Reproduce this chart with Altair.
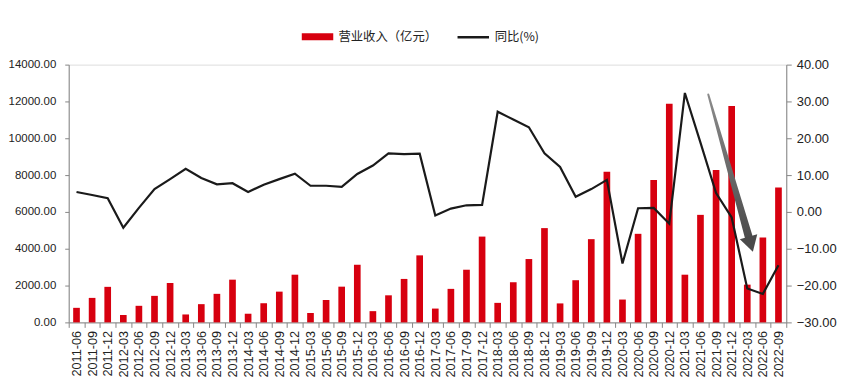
import altair as alt
import pandas as pd

periods = ["2011-06", "2011-09", "2011-12"]
for yr in range(2012, 2022):
    for m in ["03", "06", "09", "12"]:
        periods.append(f"{yr}-{m}")
periods += ["2022-03", "2022-06", "2022-09"]

revenue = [790, 1330, 1930, 400, 900, 1440, 2140, 430, 990, 1550, 2320, 470, 1040,
           1670, 2590, 510, 1220, 1940, 3130, 610, 1470, 2360, 3640, 750, 1820,
           2860, 4660, 1060, 2180, 3440, 5120, 1030, 2290, 4520, 8180, 1240, 4810,
           7730, 11870, 2590, 5840, 8270, 11750, 2050, 4610, 7330]
yoy = [5.4, 4.6, 3.7, -4.3, 1.1, 6.2, 8.9, 11.7, 9.2, 7.5, 7.8, 5.4, 7.4, 8.9, 10.4,
       7.1, 7.1, 6.8, 10.3, 12.6, 15.9, 15.7, 15.8, -1.0, 0.9,
       1.8, 1.9, 27.2, 25.1, 23.0, 15.9, 12.2, 4.1, 6.2, 8.7, -14.0, 1.0, 1.1, -3.2,
       32.3, 18.8, 5.1, -1.5, -20.8, -22.3, -14.5]

left_ticks = [0, 2000, 4000, 6000, 8000, 10000, 12000, 14000]
right_ticks = [-30, -20, -10, 0, 10, 20, 30, 40]

bar_name = "营业收入（亿元）"
line_name = "同比(%)"

# annotation arrow (category-index units on x, right-axis units on y)
arrow_x = [41.0, 43.58]
arrow_y = [31.9, -6.6]
arrow_w = [2.0, 8.0]
head_x = [43.72]
head_y = [-8.8]

df = pd.DataFrame({"period": periods, "revenue": revenue, "yoy": yoy,
                   "s1": bar_name, "s2": line_name})
arrow_df = pd.DataFrame({"x": arrow_x, "y": arrow_y, "w": arrow_w, "o": [0, 1]})
head_df = pd.DataFrame({"x": head_x, "y": head_y})

W, H = 721, 259
LABEL = "Liberation Sans"
AX = "#868686"

xenc = alt.X("period:N", sort=periods,
             scale=alt.Scale(paddingInner=0, paddingOuter=0),
             axis=alt.Axis(title=None, labelAngle=270, labelFontSize=12.8, labelFont=LABEL,
                           labelColor="#222", tickBand="extent", tickSize=5,
                           domainColor=AX, tickColor=AX, labelPadding=3))

bars = alt.Chart(df).mark_bar(size=6.7).encode(
    x=xenc,
    y=alt.Y("revenue:Q", scale=alt.Scale(domain=[0, 14000], nice=False),
            axis=alt.Axis(orient="left", values=left_ticks, format=".2f", title=None,
                          grid=False, domainColor=AX, tickColor=AX, tickSize=4,
                          labelFontSize=11.5, labelFont=LABEL, labelColor="#222",
                          labelPadding=9)),
    fill=alt.Fill("s1:N", scale=alt.Scale(domain=[bar_name], range=["#d7000f"]),
                  legend=alt.Legend(title=None, orient="none", legendX=233, legendY=-45,
                                    symbolType="M-1,-0.23H1V0.23H-1Z", symbolSize=1000,
                                    labelFontSize=12.4, labelFont="Noto Sans CJK SC",
                                    labelColor="#222", padding=0, labelOffset=4)),
)

line = alt.Chart(df).mark_line(strokeWidth=2.2).encode(
    x=xenc,
    y=alt.Y("yoy:Q", scale=alt.Scale(domain=[-30, 40], nice=False, zero=False),
            axis=alt.Axis(orient="right", values=right_ticks, format=".2f", title=None,
                          grid=False, domainColor=AX, tickColor=AX, tickSize=5,
                          labelFontSize=13, labelFont=LABEL, labelColor="#222",
                          labelPadding=5)),
    stroke=alt.Stroke("s2:N", scale=alt.Scale(domain=[line_name], range=["#1a1a1a"]),
                      legend=alt.Legend(title=None, orient="none", legendX=389, legendY=-45,
                                        symbolType="stroke", symbolSize=1000,
                                        symbolStrokeWidth=2.5,
                                        labelFontSize=12.4, labelFont="Noto Sans CJK SC",
                                        labelColor="#222", padding=0, labelOffset=4)),
)

base = alt.layer(bars, line).resolve_scale(y="independent")

ax_q = alt.X("x:Q", scale=alt.Scale(domain=[0, 46], nice=False, zero=False), axis=None)
ay_q = alt.Y("y:Q", scale=alt.Scale(domain=[-30, 40], nice=False, zero=False), axis=None)

trail = alt.Chart(arrow_df).mark_trail(
    color=alt.LinearGradient(gradient="linear",
                             stops=[alt.GradientStop(color="#8c8c8c", offset=0),
                                    alt.GradientStop(color="#4a4a4a", offset=1)],
                             x1=0, x2=0, y1=0, y2=1)
).encode(x=ax_q, y=ay_q, size=alt.Size("w:Q", scale=None), order="o:Q")

head = alt.Chart(head_df).mark_point(shape="triangle-up", filled=True, size=330,
                                     color="#4a4a4a", opacity=1, angle=164).encode(
    x=ax_q, y=ay_q)

chart = alt.layer(base, trail, head).resolve_scale(
    x="independent", y="independent", size="independent"
).properties(
    width=W, height=H, padding={"left": 0, "top": 11, "right": 5, "bottom": 0}
).configure_view(stroke=None).configure(background="white")

chart.save("out.html", embed_options={"renderer": "svg", "actions": False})
